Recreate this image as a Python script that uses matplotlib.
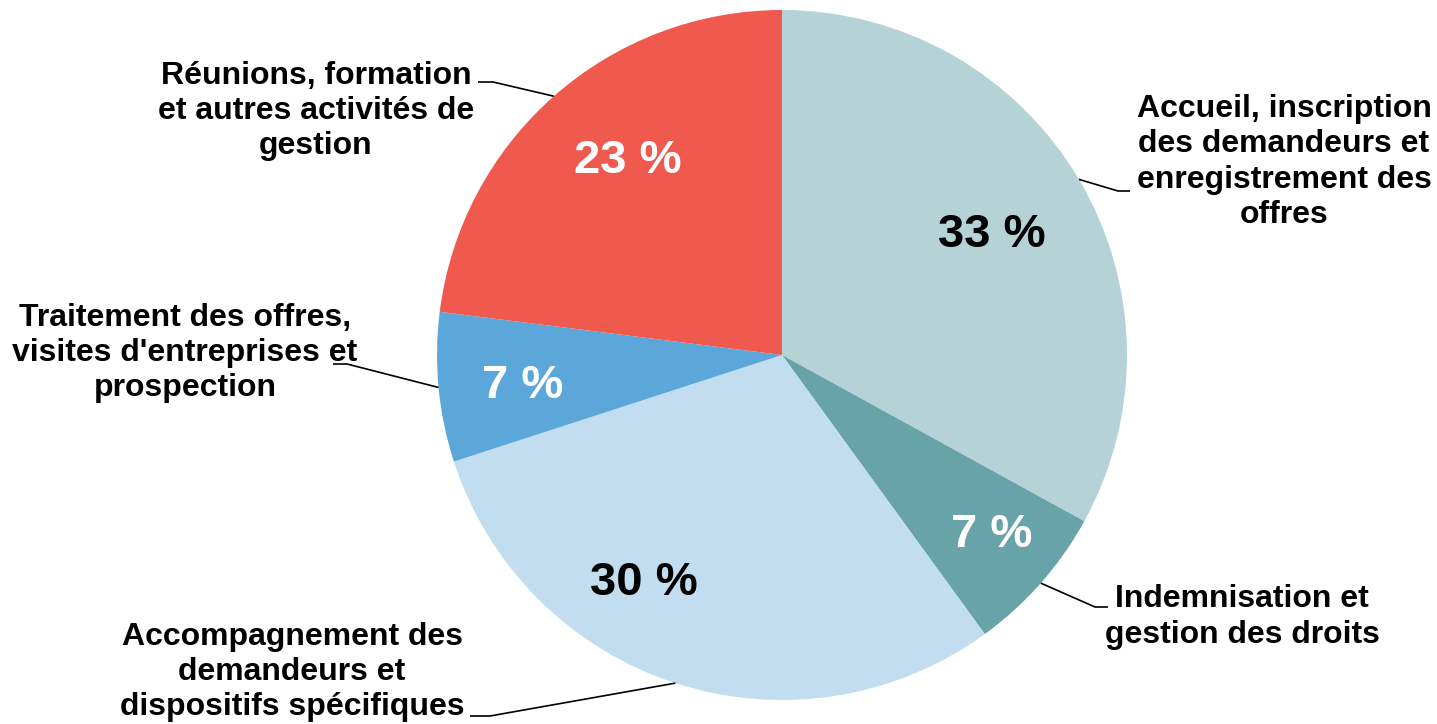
import matplotlib.pyplot as plt
import numpy as np

plt.rcParams['font.family'] = ['Liberation Sans', 'DejaVu Sans']

# data, clockwise from 12 o'clock
labels = [
    'Accueil, inscription\ndes demandeurs et\nenregistrement des\noffres',
    'Indemnisation et\ngestion des droits',
    'Accompagnement des\ndemandeurs et\ndispositifs spécifiques',
    'Traitement des offres,\nvisites d\'entreprises et\nprospection',
    'Réunions, formation\net autres activités de\ngestion',
]
values = [33, 7, 30, 7, 23]
colors = ['#b5d3d7', '#68a3aa', '#c3ddf0', '#5ca7da', '#f0594e']
pct_colors = ['black', 'white', 'black', 'white', 'white']

W, H = 1437, 724
fig = plt.figure(figsize=(W / 100, H / 100), dpi=100)
ax = fig.add_axes([0, 0, 1, 1])

cx, cy, R = 782, H - 355, 345
wedges, _ = ax.pie(values, colors=colors, startangle=90, counterclock=False,
                   center=(cx, cy), radius=R, frame=True)
ax.set_xlim(0, W)
ax.set_ylim(0, H)
ax.axis('off')

# pixel positions (from top-left) of percent labels
pct_pos = [(992, 235), (992, 535), (644, 583), (523, 386), (628, 161)]
for v, (px, py), c in zip(values, pct_pos, pct_colors):
    ax.text(px, H - py, f'{v} %', ha='center', va='center', fontsize=34,
            fontweight='bold', color=c)

# label text centres, elbow and end of leader lines (pixels from top-left)
text_pos = [(1284, 162), (1242, 617), (292, 672), (185, 353), (316, 111)]
elbows = [(1118, 191), (1095, 607), (490, 716), (347, 364), (493, 82)]
ends = [(1130, 191), (1108, 607), (470, 716), (333, 364), (478, 82)]

for w, lab, (tx, ty), (ex, ey), (fx, fy) in zip(wedges, labels, text_pos, elbows, ends):
    ang = np.deg2rad((w.theta1 + w.theta2) / 2)
    sx, sy = cx + R * np.cos(ang), cy + R * np.sin(ang)
    ax.plot([sx, ex, fx], [sy, H - ey, H - fy], color='black', lw=1.2,
            solid_capstyle='butt')
    ax.text(tx, H - ty, lab, ha='center', va='center', fontsize=23,
            fontweight='bold', linespacing=1.23)

fig.savefig('out.png', dpi=100)
